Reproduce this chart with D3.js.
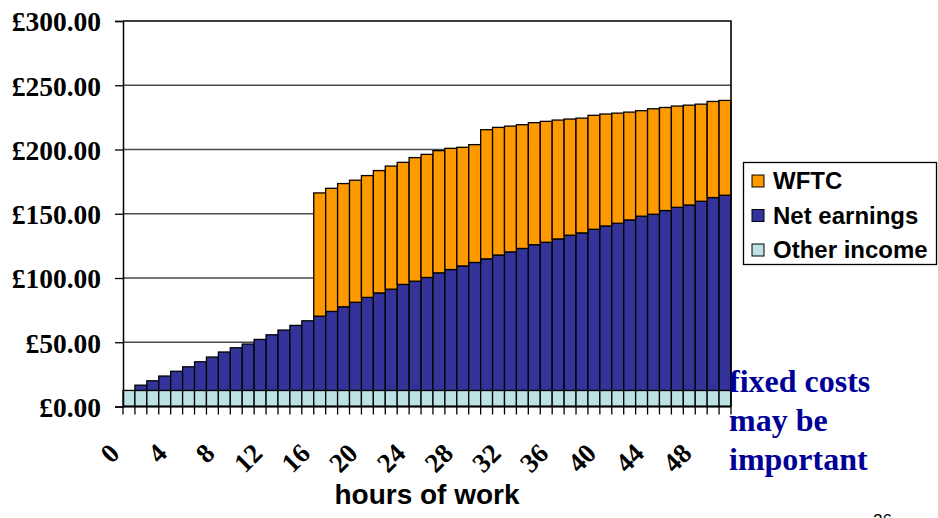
<!DOCTYPE html>
<html>
<head>
<meta charset="utf-8">
<script src="https://cdn.jsdelivr.net/npm/d3@7"></script>
<style>
  html, body { margin: 0; padding: 0; background: #ffffff; }
  svg { display: block; }
</style>
</head>
<body>
<svg id="chart" width="938" height="518"></svg>
<script>
// Weekly income by hours worked (0–50 hours)
const hours = d3.range(0, 51);

// Other income (constant each week)
const otherIncome = hours.map(() => 12.5);

// Net earnings from work
const netEarnings = [
  0.0, 4.1, 7.5, 11.2, 14.9, 18.4, 22.3, 26.0, 29.9, 33.2,
  36.1, 39.7, 43.3, 47.0, 50.6, 54.2, 57.8, 61.5, 65.1, 68.6,
  72.4, 75.9, 78.8, 82.5, 85.0, 87.9, 91.5, 94.1, 96.9, 99.6,
  102.4, 105.4, 107.8, 110.5, 113.4, 115.3, 117.9, 120.8, 122.6, 125.4,
  128.0, 130.1, 132.7, 135.6, 137.1, 140.0, 142.5, 144.3, 147.2, 150.1,
  151.9
];

// Working Families' Tax Credit (paid from 16 hours)
const wftc = [
  0, 0, 0, 0, 0, 0, 0, 0, 0, 0,
  0, 0, 0, 0, 0, 0, 95.9, 95.8, 95.9, 95.0,
  94.8, 95.2, 95.8, 95.0, 96.2, 95.8, 95.1, 94.3, 92.3, 91.7,
  100.5, 99.3, 97.9, 96.3, 95.0, 94.1, 92.5, 90.4, 89.3, 88.7,
  87.1, 85.7, 83.9, 82.1, 82.1, 80.2, 78.8, 77.7, 75.6, 74.8,
  73.8
];

const yTicks = [0, 50, 100, 150, 200, 250, 300];
const xLabelHours = d3.range(0, 49, 4);

const seriesNames = ["Other income", "Net earnings", "WFTC"];
const seriesColors = ["#BCE2E5", "#333399", "#FF9900"];
const legendOrder = ["WFTC", "Net earnings", "Other income"];
const noteLines = ["fixed costs", "may be", "important"];

const rows = hours.map((h, i) => ({
  hour: h,
  "Other income": otherIncome[i],
  "Net earnings": netEarnings[i],
  "WFTC": wftc[i]
}));

const svg = d3.select("#chart");
const plot = { left: 123, right: 731, top: 21, bottom: 406.5 };

const x = d3.scaleBand()
  .domain(hours)
  .range([plot.left, plot.right])
  .padding(0);

const y = d3.scaleLinear()
  .domain([0, 300])
  .range([plot.bottom, plot.top]);

const color = d3.scaleOrdinal().domain(seriesNames).range(seriesColors);

const serif = "'Liberation Serif', 'Times New Roman', serif";
const sans = "'Liberation Sans', Arial, sans-serif";

// Horizontal gridlines
svg.append("g")
  .selectAll("line")
  .data(yTicks.filter(t => t > 0 && t < 300))
  .join("line")
  .attr("x1", plot.left)
  .attr("x2", plot.right)
  .attr("y1", d => y(d))
  .attr("y2", d => y(d))
  .attr("stroke", "#4a4a4a")
  .attr("stroke-width", 1.3);

// Stacked bars
const stack = d3.stack().keys(seriesNames)(rows);

svg.append("g")
  .selectAll("g")
  .data(stack)
  .join("g")
  .attr("fill", d => color(d.key))
  .selectAll("rect")
  .data(d => d.filter(s => s[1] - s[0] > 0))
  .join("rect")
  .attr("x", d => x(d.data.hour))
  .attr("width", x.bandwidth())
  .attr("y", d => y(d[1]))
  .attr("height", d => y(d[0]) - y(d[1]))
  .attr("stroke", "#000")
  .attr("stroke-width", 1.3);

// Plot frame: top and right edges
svg.append("path")
  .attr("d", `M${plot.left},${y(300)}H${plot.right}V${plot.bottom}`)
  .attr("fill", "none")
  .attr("stroke", "#000")
  .attr("stroke-width", 1.6);

// Y axis
const yAxis = svg.append("g")
  .attr("transform", `translate(${plot.left},0)`)
  .call(d3.axisLeft(y).tickValues(yTicks).tickSize(8).tickPadding(14)
    .tickFormat(d => "£" + d3.format(".2f")(d)));
yAxis.select(".domain").attr("stroke", "#000").attr("stroke-width", 1.5);
yAxis.selectAll(".tick line").attr("stroke", "#000").attr("stroke-width", 1.3);
yAxis.selectAll(".tick text")
  .attr("font-family", serif)
  .attr("font-weight", "bold")
  .attr("font-size", 27.5)
  .attr("fill", "#000")
  .attr("dy", "0.36em");

// X axis: tick marks at every bar boundary
const boundaries = hours.map(h => x(h)).concat([plot.right]);
svg.append("g")
  .selectAll("line")
  .data(boundaries)
  .join("line")
  .attr("x1", d => d)
  .attr("x2", d => d)
  .attr("y1", plot.bottom)
  .attr("y2", plot.bottom + 8)
  .attr("stroke", "#000")
  .attr("stroke-width", 1.3);

svg.append("line")
  .attr("x1", plot.left)
  .attr("x2", plot.right)
  .attr("y1", plot.bottom)
  .attr("y2", plot.bottom)
  .attr("stroke", "#000")
  .attr("stroke-width", 2.2);

// X tick labels, rotated
svg.append("g")
  .selectAll("text")
  .data(xLabelHours)
  .join("text")
  .attr("transform", d => `translate(${x(d) + x.bandwidth() / 2 - 8},455) rotate(-45)`)
  .attr("text-anchor", "end")
  .attr("font-family", serif)
  .attr("font-weight", "bold")
  .attr("font-size", 27)
  .attr("fill", "#000")
  .text(d => d);

// X axis title
svg.append("text")
  .attr("x", 427)
  .attr("y", 504)
  .attr("text-anchor", "middle")
  .attr("font-family", sans)
  .attr("font-weight", "bold")
  .attr("font-size", 28)
  .attr("fill", "#000")
  .text("hours of work");

// Legend
const legend = svg.append("g");
legend.append("rect")
  .attr("x", 743.5)
  .attr("y", 162.5)
  .attr("width", 193)
  .attr("height", 102)
  .attr("fill", "#fff")
  .attr("stroke", "#000")
  .attr("stroke-width", 1.3);

const legendItems = legend.selectAll("g.item")
  .data(legendOrder)
  .join("g")
  .attr("class", "item")
  .attr("transform", (d, i) => `translate(752,${175 + i * 34.5})`);

legendItems.append("rect")
  .attr("width", 12)
  .attr("height", 12)
  .attr("fill", d => color(d))
  .attr("stroke", "#000")
  .attr("stroke-width", 1);

legendItems.append("text")
  .attr("x", 21)
  .attr("y", 14)
  .attr("font-family", sans)
  .attr("font-weight", "bold")
  .attr("font-size", 24)
  .attr("fill", "#000")
  .text(d => d);

// Annotation
svg.append("g")
  .selectAll("text")
  .data(noteLines)
  .join("text")
  .attr("x", 729)
  .attr("y", (d, i) => 392 + i * 39)
  .attr("font-family", serif)
  .attr("font-weight", "bold")
  .attr("font-size", 32)
  .attr("fill", "#000099")
  .text(d => d);

// Slide number
svg.append("text")
  .attr("x", 873)
  .attr("y", 526)
  .attr("font-family", sans)
  .attr("font-size", 17)
  .attr("fill", "#000")
  .text("26");
</script>
</body>
</html>
